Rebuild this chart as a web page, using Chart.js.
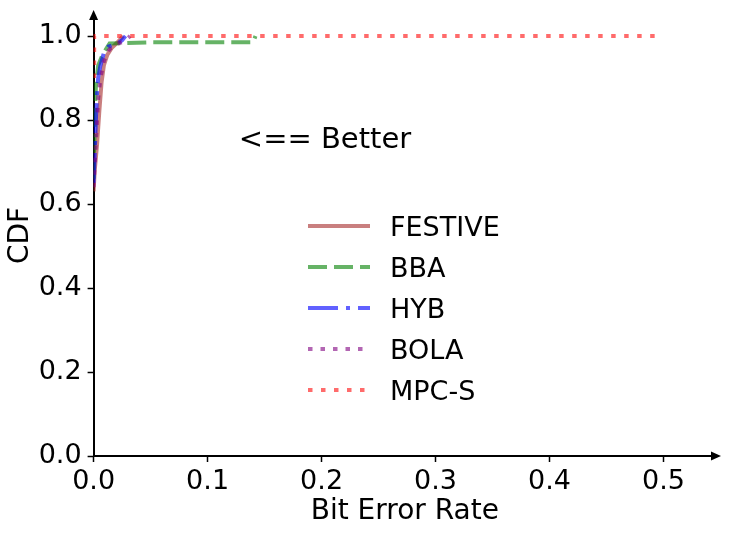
<!DOCTYPE html>
<html>
<head>
<meta charset="utf-8">
<script src="https://cdn.jsdelivr.net/npm/chart.js@4.4.1/dist/chart.umd.min.js"></script>
<style>
html,body{margin:0;padding:0;background:#fff;}
#wrap{width:730px;height:533px;}
</style>
</head>
<body>
<div id="wrap"><canvas id="c" width="730" height="533"></canvas></div>
<script>
// ---- data ----
const seriesNames = ["FESTIVE", "BBA", "HYB", "BOLA", "MPC-S"];

const festiveX = [0, 0.001, 0.003, 0.005, 0.007, 0.009, 0.012, 0.016, 0.021, 0.026];
const festiveY = [0.63, 0.68, 0.74, 0.82, 0.89, 0.93, 0.955, 0.972, 0.985, 1.0];

const bbaX = [0, 0.001, 0.002, 0.004, 0.007, 0.010, 0.014, 0.05, 0.14, 0.142];
const bbaY = [0.66, 0.80, 0.88, 0.93, 0.95, 0.965, 0.982, 0.985, 0.985, 1.0];

const hybX = [0, 0.001, 0.002, 0.003, 0.004, 0.006, 0.009, 0.013, 0.020, 0.025, 0.028];
const hybY = [0.65, 0.72, 0.80, 0.86, 0.90, 0.93, 0.96, 0.975, 0.98, 0.99, 1.0];

const bolaX = [0, 0.002, 0.004, 0.006, 0.009, 0.013, 0.018, 0.025, 0.030, 0.032];
const bolaY = [0.64, 0.75, 0.85, 0.90, 0.94, 0.965, 0.98, 0.985, 0.995, 1.0];

const mpcX = [0.0005, 0.0005, 0.494];
const mpcY = [0.90, 1.0, 1.0];

const xTicks = [0, 0.1, 0.2, 0.3, 0.4, 0.5];
const yTicks = [0, 0.2, 0.4, 0.6, 0.8, 1.0];
const annotationText = "<== Better";

// ---- styles ----
const colors = ["rgba(165,42,42,0.6)", "rgba(0,128,0,0.6)", "rgba(0,0,255,0.62)", "rgba(128,0,128,0.6)", "rgba(255,0,0,0.58)"];
const dashes = [[], [19, 7], [30, 8, 4, 8], [4.5, 8], [4.5, 8.5]];
const xsList = [festiveX, bbaX, hybX, bolaX, mpcX];
const ysList = [festiveY, bbaY, hybY, bolaY, mpcY];

const datasets = seriesNames.map((name, i) => ({
  label: name,
  data: xsList[i].map((x, j) => ({x: x, y: ysList[i][j]})),
  borderColor: colors[i],
  backgroundColor: colors[i],
  borderWidth: 4,
  borderDash: dashes[i],
  borderCapStyle: 'butt',
  showLine: true,
  pointRadius: 0,
  tension: 0,
  fill: false,
  order: seriesNames.length - i
}));

const FONT = "'DejaVu Sans', sans-serif";

const decor = {
  id: 'decor',
  afterDraw(chart) {
    const ctx = chart.ctx;
    const xs = chart.scales.x, ys = chart.scales.y;
    const a = chart.chartArea;
    ctx.save();
    // axis arrows
    ctx.fillStyle = '#000';
    ctx.beginPath();
    ctx.moveTo(a.left, a.top - 5);
    ctx.lineTo(a.left - 4.5, a.top + 5);
    ctx.lineTo(a.left + 4.5, a.top + 5);
    ctx.closePath(); ctx.fill();
    ctx.beginPath();
    ctx.moveTo(a.right + 5, a.bottom);
    ctx.lineTo(a.right - 5, a.bottom - 4.5);
    ctx.lineTo(a.right - 5, a.bottom + 4.5);
    ctx.closePath(); ctx.fill();

    // annotation
    ctx.font = "29px " + FONT;
    ctx.textAlign = 'center';
    ctx.textBaseline = 'alphabetic';
    ctx.fillText(annotationText, xs.getPixelForValue(0.203), ys.getPixelForValue(0.733));

    // legend
    const lx0 = 308, lx1 = 370, tx = 390;
    const rows = [226, 267, 308, 349, 390];
    ctx.font = "27px " + FONT;
    ctx.textAlign = 'left';
    ctx.textBaseline = 'alphabetic';
    chart.data.datasets.forEach((ds, i) => {
      const y = rows[i];
      ctx.save();
      ctx.strokeStyle = ds.borderColor;
      ctx.lineWidth = ds.borderWidth;
      ctx.lineCap = 'butt';
      ctx.setLineDash(ds.borderDash);
      ctx.beginPath(); ctx.moveTo(lx0, y); ctx.lineTo(lx1, y); ctx.stroke();
      ctx.restore();
      ctx.fillStyle = '#000';
      ctx.fillText(ds.label, tx, y + 9.5);
    });
    ctx.restore();
  }
};

new Chart(document.getElementById('c'), {
  type: 'scatter',
  data: { datasets },
  options: {
    responsive: false,
    animation: false,
    devicePixelRatio: 1,
    layout: { padding: { top: 15, right: 14, left: 0, bottom: 0 } },
    plugins: { legend: { display: false }, tooltip: { enabled: false } },
    scales: {
      x: {
        type: 'linear', min: 0, max: 0.546,
        afterBuildTicks: s => { s.ticks = xTicks.map(v => ({value: v})); },
        afterFit: s => { s.height = 77; s.paddingLeft = 0; s.paddingRight = 0; },
        ticks: { color: '#000', font: { family: FONT, size: 27 }, padding: 4,
                 callback: v => Number(v).toFixed(1), maxRotation: 0, autoSkip: false },
        grid: { drawOnChartArea: false, tickLength: 6, tickWidth: 1.5, color: '#000' },
        border: { display: true, color: '#000', width: 2 },
        title: { display: true, text: 'Bit Error Rate', color: '#000',
                 font: { family: FONT, size: 28 }, padding: { top: 0, bottom: 4 } }
      },
      y: {
        type: 'linear', min: 0, max: 1.05,
        afterBuildTicks: s => { s.ticks = yTicks.map(v => ({value: v})); },
        afterFit: s => { s.width = 93.6; s.paddingTop = 0; s.paddingBottom = 0; },
        ticks: { color: '#000', font: { family: FONT, size: 27 }, padding: 6,
                 callback: v => Number(v).toFixed(1), autoSkip: false },
        grid: { drawOnChartArea: false, tickLength: 6, tickWidth: 1.5, color: '#000' },
        border: { display: true, color: '#000', width: 2 },
        title: { display: true, text: 'CDF', color: '#000',
                 font: { family: FONT, size: 28 }, padding: { top: 4, bottom: 0 } }
      }
    }
  },
  plugins: [decor]
});
</script>
</body>
</html>
